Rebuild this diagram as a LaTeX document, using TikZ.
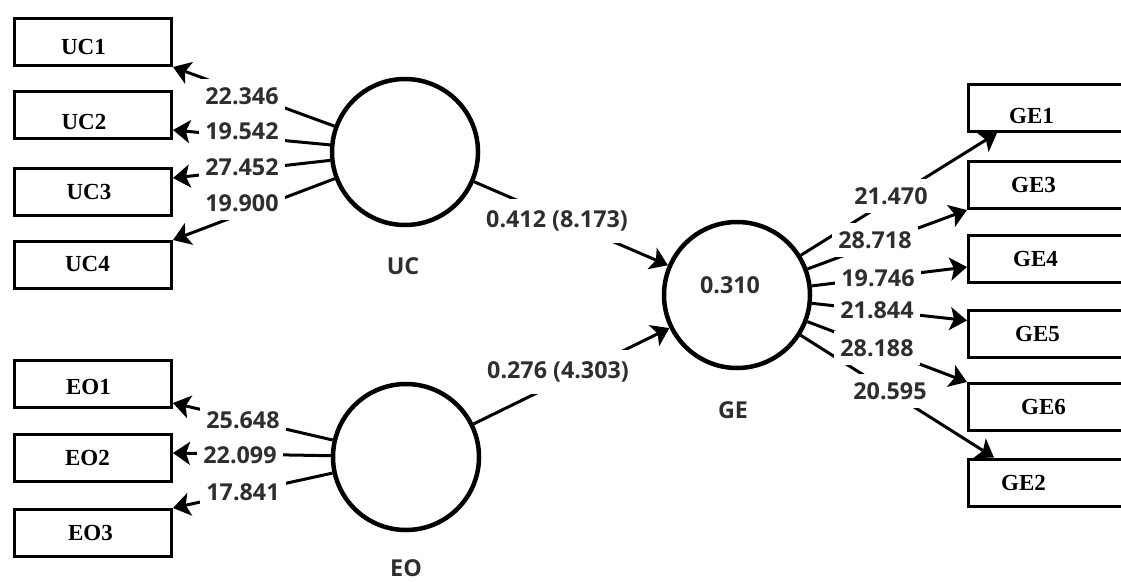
\documentclass[tikz,border=0pt]{standalone}
\usepackage{fontspec}
\setmainfont{Liberation Serif}
\newfontfamily\numfont{Open Sans}
\usetikzlibrary{arrows.meta}
\definecolor{numgray}{HTML}{2E2E2E}
\tikzset{
  ind/.style={draw, line width=3pt, minimum width=157pt, minimum height=47pt, inner sep=0pt},
  indright/.style={ind, minimum width=170pt},
  indtext/.style={font=\fontsize{23}{27}\selectfont\bfseries},
  indname/.style n args={3}{label={[indtext, xshift=#2, yshift=#3]center:#1}},
  lv/.style={draw, circle, line width=4.5pt, minimum size=146pt, inner sep=0pt},
  numtext/.style={font=\numfont\fontsize{23.3}{28}\selectfont\bfseries, text=numgray},
  conn/.style={line width=3pt, -{Stealth[length=17pt 0 0, width=23pt 0 0, inset=4pt 0 0]}},
  wt/.style={numtext, fill=white, inner xsep=6pt, inner ysep=8pt},
  pathwt/.style={wt, inner ysep=12pt},
}
\begin{document}
\begin{tikzpicture}[x=1pt, y=-1pt]
  \useasboundingbox (0,0) rectangle (1121,581);
  \clip (0,0) rectangle (1121,581);

  % latent variables
  \node[lv] (UC) at (405,152) {};
  \node[lv] (EO) at (406,457) {};
  \node[lv, label={[numtext, xshift=-7pt, yshift=10pt]center:0.310}] (GE) at (737,295) {};
  \node[numtext] (UCname) at (403,266) {UC};
  \node[numtext] (EOname) at (406,568) {EO};
  \node[numtext] (GEname) at (733,410) {GE};

  % indicators of UC
  \node[ind, indname={UC1}{-9.5pt}{-5pt}] (UC1) at (93,42) {};
  \node[ind, indname={UC2}{-9pt}{-6.5pt}] (UC2) at (93,115) {};
  \node[ind, indname={UC3}{-4pt}{0pt}] (UC3) at (93,192) {};
  \node[ind, indname={UC4}{-5.5pt}{1.5pt}] (UC4) at (93,265) {};

  % indicators of EO
  \node[ind, indname={EO1}{-4.5pt}{-3pt}] (EO1) at (93,384) {};
  \node[ind, indname={EO2}{-5.5pt}{0pt}] (EO2) at (93,458) {};
  \node[ind, indname={EO3}{-2.5pt}{0pt}] (EO3) at (93,533) {};

  % indicators of GE
  \node[indright, indname={GE1}{-22pt}{-8pt}] (GE1) at (1053.5,108) {};
  \node[indright, indname={GE3}{-20pt}{0pt}] (GE3) at (1053.5,185) {};
  \node[indright, indname={GE4}{-18pt}{0pt}] (GE4) at (1053.5,259) {};
  \node[indright, indname={GE5}{-16pt}{0pt}] (GE5) at (1053.5,333.5) {};
  \node[indright, indname={GE6}{-10pt}{0pt}] (GE6) at (1053.5,407) {};
  \node[indright, indname={GE2}{-30pt}{0pt}] (GE2) at (1053.5,482.5) {};

  % outer loadings
  \draw[conn] (UC) -- (UC1.south east);
  \draw[conn] (UC) -- ([yshift=-15pt]UC2.east);
  \draw[conn] (UC) -- ([yshift=14pt]UC3.east);
  \draw[conn] (UC) -- (UC4.north east);
  \draw[conn] (EO) -- ([yshift=-19pt]EO1.east);
  \draw[conn] (EO) -- ([yshift=5pt]EO2.east);
  \draw[conn] (EO) -- (EO3.north east);
  \draw[conn] (GE) -- ([xshift=30pt]GE1.south west);
  \draw[conn] (GE) -- (GE3.south west);
  \draw[conn] (GE) -- ([yshift=-8pt]GE4.west);
  \draw[conn] (GE) -- ([yshift=13pt]GE5.west);
  \draw[conn] (GE) -- (GE6.north west);
  \draw[conn] (GE) -- ([xshift=27pt]GE2.north west);

  % structural paths
  \draw[conn] (UC) -- (GE);
  \draw[conn] (EO) -- (GE);

  % loading values
  \node[wt] (wUC1) at (242,96) {22.346};
  \node[wt] (wUC2) at (242,131) {19.542};
  \node[wt] (wUC3) at (242,167) {27.452};
  \node[wt] (wUC4) at (242,203) {19.900};
  \node[wt] (wEO1) at (243,420) {25.648};
  \node[wt] (wEO2) at (240,455) {22.099};
  \node[wt] (wEO3) at (243,492) {17.841};
  \node[wt] (wGE1) at (891,196) {21.470};
  \node[wt] (wGE3) at (875,240) {28.718};
  \node[wt] (wGE4) at (878,278) {19.746};
  \node[wt] (wGE5) at (877,310) {21.844};
  \node[wt] (wGE6) at (877,348) {28.188};
  \node[wt] (wGE2) at (890,391) {20.595};

  % path coefficients
  \node[pathwt] (pUC) at (557,221) {0.412 (8.173)};
  \node[pathwt] (pEO) at (558,372) {0.276 (4.303)};
\end{tikzpicture}
\end{document}
